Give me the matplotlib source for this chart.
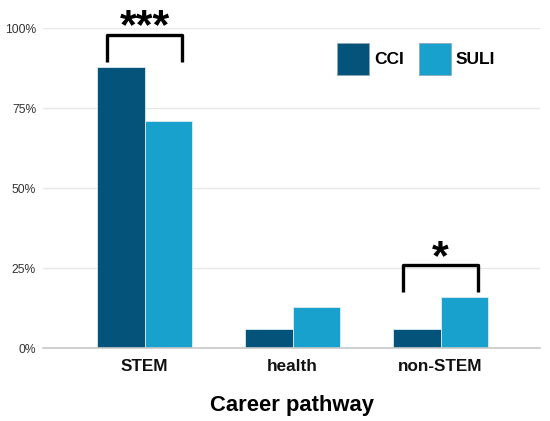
import numpy as np
import matplotlib.pyplot as plt
from matplotlib.patches import Rectangle
from matplotlib.ticker import PercentFormatter

plt.rcParams['font.family'] = ['Liberation Sans', 'DejaVu Sans']

pathways = ['STEM', 'health', 'non-STEM']
cci = [0.88, 0.06, 0.06]
suli = [0.71, 0.13, 0.16]
groups = ['CCI', 'SULI']
colors = ['#03537B', '#17A1CC']

fig = plt.figure(figsize=(5.5, 4.21), dpi=100)
ax = fig.add_axes([43/550, 1 - 348.3/421, (540 - 43)/550, 320/421])

x = np.arange(len(pathways))
width = 0.32
ax.bar(x - width/2, cci, width, color=colors[0], edgecolor='#dcecf2', linewidth=0.6, zorder=3)
ax.bar(x + width/2, suli, width, color=colors[1], edgecolor='#dcecf2', linewidth=0.6, zorder=3)

ax.set_xlim(-0.686, 2.672)
ax.set_ylim(0, 1.0)
ax.set_yticks([0, 0.25, 0.5, 0.75, 1.0])
ax.yaxis.set_major_formatter(PercentFormatter(1.0, decimals=0))
ax.grid(axis='y', color='#e8e8e8', linewidth=1, zorder=0)
for s in ['top', 'right', 'left']:
    ax.spines[s].set_visible(False)
ax.spines['bottom'].set_color('#c8c8c8')
ax.spines['bottom'].set_linewidth(1.2)
ax.spines['bottom'].set_zorder(4)
ax.tick_params(axis='both', length=0)
ax.tick_params(axis='y', labelsize=8.7, colors='#333333', pad=5)
ax.set_xticks(x)
ax.set_xticklabels(pathways, fontsize=12.3, fontweight='bold', color='#111111')
ax.tick_params(axis='x', pad=8)
ax.set_xlabel('Career pathway', fontsize=15.8, fontweight='bold', labelpad=15)

# significance brackets
def bracket(xc, y_low, y_top, label):
    half = 0.253
    ax.plot([xc - half, xc - half, xc + half, xc + half],
            [y_low, y_top, y_top, y_low], color='black', linewidth=2.4,
            solid_joinstyle='round', solid_capstyle='butt', clip_on=False, zorder=5)
    ax.text(xc, y_top - 0.04, label, ha='center', va='bottom', fontsize=31,
            fontweight='bold', clip_on=False)

bracket(x[0], 0.896, 0.98, '***')
bracket(x[2], 0.177, 0.26, '*')

# legend drawn by hand (squares + labels)
for i, (g, c) in enumerate(zip(groups, colors)):
    x0 = 337 + i * 82
    fig.patches.append(Rectangle((x0/550, 1 - 75/421), 32/550, 32/421,
                                 transform=fig.transFigure, facecolor=c,
                                 edgecolor='#8fa9b8', linewidth=0.6))
    fig.text((x0 + 37)/550, 1 - 59/421, g, ha='left', va='center',
             fontsize=12.5, fontweight='bold')

fig.savefig('out.png', dpi=100)
